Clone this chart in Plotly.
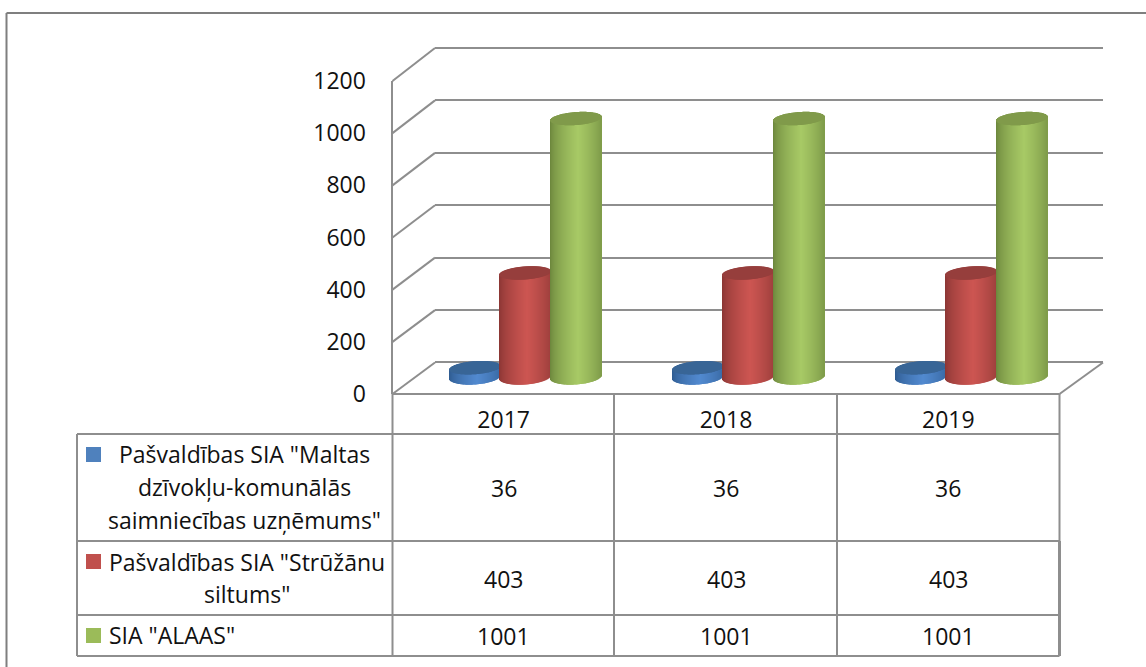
import numpy as np
import plotly.graph_objects as go

# ---------- data ----------
years = ["2017", "2018", "2019"]
series_names = ["Pašvaldības SIA \"Maltas dzīvokļu-komunālās saimniecības uzņēmums\"",
                "Pašvaldības SIA \"Strūžānu siltums\"", "SIA \"ALAAS\""]
maltas = [36, 36, 36]
struzanu = [403, 403, 403]
alaas = [1001, 1001, 1001]
y_ticks = [0, 200, 400, 600, 800, 1000, 1200]

W, H = 1146, 667
FONT = "Open Sans"
FS = 23
GRID = "#8E8E8E"
px = lambda v: v / W
py = lambda v: 1 - v / H

# cylinder shading: (edge, centre, cap)
styles = [((44, 88, 140), (82, 138, 208), (56, 101, 150)),
          ((134, 52, 50), (205, 86, 82), (150, 62, 60)),
          ((104, 130, 58), (168, 202, 102), (128, 154, 74))]

FX0, FX1 = 392.5, 1059.5           # front x-axis pixels
BX0, BX1 = 435.0, 1103.0           # back wall pixels
MX0, MX1 = 414.0, 1083.0           # mid-depth (bar plane) pixels
cat_px = (MX1 - MX0) / 3
BASE_PX, SCALE = 377.0, 0.2582     # bar plane: value 0 pixel, pixels per unit
BAR_W, BAR_STEP = 51.0, 50.5
CAP_H, BOT_H, TILT = 6.5, 7.5, 1.8
N = 51

fig = go.Figure()

for k, vals in enumerate([maltas, struzanu, alaas]):
    edge, mid, cap = styles[k]
    bx, by, bb, bw, bo, bc = [], [], [], [], [], []
    cx, cy, cb, cw, co = [], [], [], [], []
    for i, v in enumerate(vals):
        for s in range(N):
            t = (s + 0.5) / N * 2 - 1
            c = np.sqrt(1 - t * t)
            lit = max(0.0, 1 - abs(t - 0.1) / 1.1) ** 0.6
            col = tuple(int(edge[j] + (mid[j] - edge[j]) * lit) for j in range(3))
            off = ((k - 1) * BAR_STEP + t * BAR_W / 2 - 0.7) / cat_px
            w = 1.5 / cat_px
            lean = t * TILT / SCALE
            low = -BOT_H / SCALE * c + lean
            top = v + lean
            bx.append(i); by.append(top - low); bb.append(low)
            bw.append(w); bo.append(off); bc.append(f"rgb{col}")
            cx.append(i); cy.append(2 * CAP_H / SCALE * c); cb.append(top - CAP_H / SCALE * c)
            cw.append(w); co.append(off)
    fig.add_bar(x=bx, y=by, base=bb, width=bw, offset=bo, name=series_names[k],
                marker=dict(color=bc, line_width=0), xaxis="x3", yaxis="y3",
                showlegend=False, hoverinfo="skip")
    fig.add_bar(x=cx, y=cy, base=cb, width=cw, offset=co,
                marker=dict(color=f"rgb{cap}", line_width=0), xaxis="x3", yaxis="y3",
                showlegend=False, hoverinfo="skip")

# invisible carriers so each axis is created
fig.add_scatter(x=[0, 1, 2], y=[0, 0, 0], xaxis="x", yaxis="y", mode="none",
                showlegend=False, hoverinfo="skip")
fig.add_scatter(x=[0, 1, 2], y=[0, 0, 0], xaxis="x2", yaxis="y2", mode="none",
                showlegend=False, hoverinfo="skip")

shapes = []
def line(x0, y0, x1, y1, w=2, color=GRID):
    shapes.append(dict(type="line", xref="paper", yref="paper", layer="below",
                       x0=px(x0), x1=px(x1), y0=py(y0), y1=py(y1),
                       line=dict(color=color, width=w)))

# oblique wall edges, one per tick, from the front axis to the back wall
FY0, FY1 = 394.0, 81.0
BY0, BY1 = 362.5, 48.0
for t in y_ticks:
    f = t / y_ticks[-1]
    line(FX0, FY0 + (FY1 - FY0) * f, BX0, BY0 + (BY1 - BY0) * f)
line(FX1, FY0, BX1, BY0)

# frame
line(6.5, 13, 6.5, 667, 2, "#7F7F7F")
line(6.5, 13, 1146, 13, 2, "#7F7F7F")

# data table grid
for xp in [FX0, 614, 837, 1059.5]:
    line(xp, 394, xp, 656)
line(1059.5, 541, 1059.5, 656, 3)
line(77, 434, 77, 656)
line(FX0, 394, 1059.5, 394)
for yp in [434, 541, 615, 656]:
    line(77, yp, 1059.5, yp)

# legend keys
key_cols = ["#4F81BD", "#C0504D", "#9BBB59"]
for yk, col in zip([447, 554, 628], key_cols):
    shapes.append(dict(type="rect", xref="paper", yref="paper", line_width=0, fillcolor=col,
                       x0=px(86), x1=px(101), y0=py(yk), y1=py(yk + 15)))

ann = []
def label(text, xv, yp, xref="paper", anchor="center", size=FS):
    ann.append(dict(text=text, x=xv, y=py(yp), xref=xref, yref="paper", showarrow=False,
                    xanchor=anchor, yanchor="middle", align="center",
                    font=dict(family=FONT, size=size, color="#111111")))

label("Pašvaldības SIA \"Maltas", px(244), 454)
label("dzīvokļu-komunālās", px(244), 487)
label("saimniecības uzņēmums\"", px(244), 520)
label("Pašvaldības SIA \"Strūžānu", px(246.5), 562)
label("siltums\"", px(246.5), 594)
label("SIA \"ALAAS\"", px(107), 635, anchor="left")
for i in range(3):
    label(str(maltas[i]), i, 488, xref="x")
    label(str(struzanu[i]), i, 579, xref="x")
    label(str(alaas[i]), i, 636, xref="x")

# back-wall axis range has a little slack so the end gridlines are drawn
slack = 50
bscale = (BY0 - BY1) / y_ticks[-1]

fig.update_layout(
    width=W, height=H,
    autosize=False,
    margin=dict(l=0, r=0, t=0, b=0, pad=0),
    paper_bgcolor="white", plot_bgcolor="rgba(0,0,0,0)",
    barmode="overlay", showlegend=False,
    shapes=shapes, annotations=ann,
    font=dict(family=FONT, size=FS, color="#111111"),
    # front axes: year labels and value labels
    xaxis=dict(domain=[px(FX0), px(FX1)], range=[-0.5, 2.5], anchor="y", automargin=False,
               tickmode="array", tickvals=[0, 1, 2], ticktext=years, ticks="",
               showgrid=False, showline=False, zeroline=False, ticklabelstandoff=10,
               tickfont=dict(family=FONT, size=FS, color="#111111")),
    yaxis=dict(domain=[py(FY0), py(FY1)], range=[0, 1200], anchor="x", automargin=False,
               tickmode="array", tickvals=y_ticks, ticks="", side="left",
               showgrid=False, zeroline=False, showline=True, linecolor=GRID, linewidth=2,
               ticklabelstandoff=20,
               tickfont=dict(family=FONT, size=FS, color="#111111")),
    # back wall: its gridlines
    xaxis2=dict(domain=[px(BX0), px(BX1)], range=[0, 1], anchor="y2", visible=False, automargin=False),
    yaxis2=dict(domain=[py(BY0 + slack * bscale), py(BY1 - slack * bscale)], automargin=False,
                range=[-slack, y_ticks[-1] + slack], anchor="x2",
                tickmode="array", tickvals=y_ticks, showticklabels=False, ticks="",
                showgrid=True, gridcolor=GRID, gridwidth=2, zeroline=False, showline=False),
    # bar plane between front and back
    xaxis3=dict(domain=[px(MX0), px(MX1)], range=[-0.5, 2.5], anchor="y3", visible=False, automargin=False),
    yaxis3=dict(domain=[0, 1], range=[-(H - BASE_PX) / SCALE, BASE_PX / SCALE],
                anchor="x3", visible=False, automargin=False),
)
fig.write_html("out.html", config=dict(displayModeBar=False),
               post_script="document.body.style.margin='0';document.documentElement.style.overflow='hidden';")
